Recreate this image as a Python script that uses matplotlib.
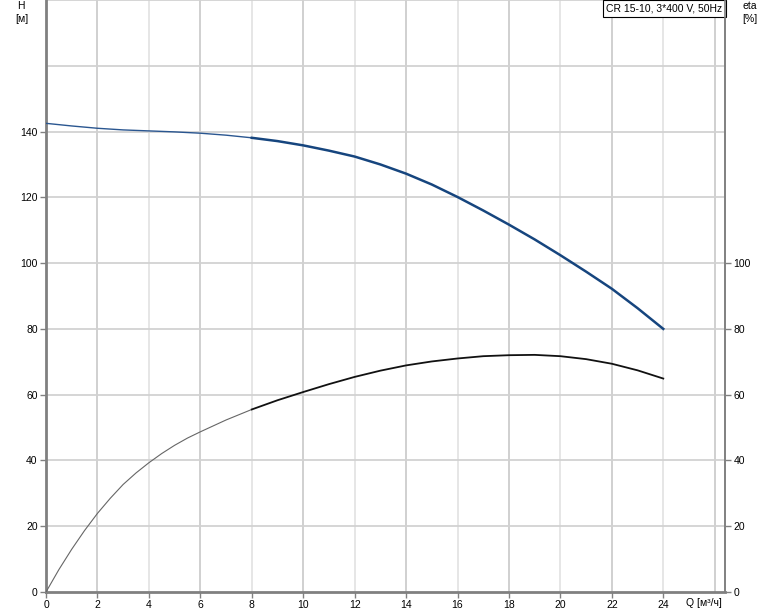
import numpy as np
import matplotlib
matplotlib.use("Agg")
import matplotlib.pyplot as plt

plt.rcParams['font.family'] = ['Liberation Sans', 'DejaVu Sans']

# pump curve CR 15-10
q_h = [0, 1, 2, 3, 4, 5, 6, 7, 8, 9, 10, 11, 12, 13, 14, 15, 16, 17, 18, 19, 20, 21, 22, 23, 24]
head = [142.5, 141.7, 141.0, 140.5, 140.2, 139.9, 139.5, 138.9, 138.1, 137.1, 135.8, 134.2, 132.4,
        130.0, 127.2, 123.9, 120.1, 116.0, 111.7, 107.2, 102.4, 97.4, 92.2, 86.3, 80.0]

q_eta = [0, 0.5, 1, 1.5, 2, 2.5, 3, 3.5, 4, 4.5, 5, 5.5, 6, 7, 8, 9, 10, 11, 12, 13, 14, 15, 16,
         17, 18, 19, 20, 21, 22, 23, 24]
eta = [0.0, 6.8, 13.0, 18.7, 23.9, 28.5, 32.7, 36.2, 39.3, 42.1, 44.6, 46.8, 48.7, 52.3, 55.5,
       58.3, 60.8, 63.2, 65.4, 67.3, 68.9, 70.1, 71.0, 71.7, 72.0, 72.1, 71.7, 70.8, 69.4, 67.4,
       64.9]

x_ticks = list(range(0, 25, 2))
y_ticks = list(range(0, 141, 20))
eta_ticks = list(range(0, 101, 20))

fig = plt.figure(figsize=(7.74, 6.11), dpi=100)
ax = fig.add_axes([46 / 774, 1 - 592 / 611, (725 - 46) / 774, 592 / 611])
ax.set_xlim(0, 26.4)
ax.set_ylim(0, 180)

# grid
for i, gx in enumerate(range(2, 27, 2)):
    c = '#cdcdcd' if i % 2 == 0 else '#e4e4e4'
    ax.axvline(gx, color=c, lw=1.3, zorder=0)
for gy in range(20, 181, 20):
    ax.axhline(gy, color='#d2d2d2', lw=1.3, zorder=0)

# curves: thin at start, thicker further on, as in the original
qh = np.array(q_h)
h = np.array(head)
qe = np.array(q_eta)
e = np.array(eta)
ax.plot(qh[qh <= 8], h[qh <= 8], color='#2a5690', lw=1.0, zorder=3)
ax.plot(qh[qh >= 8], h[qh >= 8], color='#16457e', lw=1.8, zorder=3)
ax.plot(qe[qe <= 8], e[qe <= 8], color='#666666', lw=0.8, zorder=3)
ax.plot(qe[qe >= 8], e[qe >= 8], color='#111111', lw=1.3, zorder=3)

ax.set_xticks(x_ticks)
ax.set_yticks(y_ticks)
ax.tick_params(axis='both', direction='out', length=4, width=1, color='#808080',
               labelsize=7.5, pad=2)
for s in ['left', 'bottom']:
    ax.spines[s].set_color('#808080')
    ax.spines[s].set_linewidth(2)
ax.spines['top'].set_visible(False)
ax.spines['right'].set_color('#808080')
ax.spines['right'].set_linewidth(1.2)

ax2 = ax.twinx()
ax2.set_ylim(0, 180)
ax2.set_yticks(eta_ticks)
ax2.tick_params(axis='y', direction='out', length=4, width=1, color='#808080',
                labelsize=7.5, pad=2)
for s in ['top', 'left', 'bottom']:
    ax2.spines[s].set_visible(False)
ax2.spines['right'].set_color('#808080')
ax2.spines['right'].set_linewidth(1.2)

fig.text(21 / 774, 1 - 6 / 611, 'H', fontsize=7.5, ha='center', va='center')
fig.text(22 / 774, 1 - 19 / 611, '[м]', fontsize=7.5, ha='center', va='center')
fig.text(750 / 774, 1 - 6 / 611, 'eta', fontsize=7.5, ha='center', va='center')
fig.text(750 / 774, 1 - 19 / 611, '[%]', fontsize=7.5, ha='center', va='center')
fig.text(704 / 774, 1 - 603 / 611, 'Q [м³/ч]', fontsize=7.5, ha='center', va='center')

ax.text(0.996, 0.994, 'CR 15-10, 3*400 V, 50Hz', transform=ax.transAxes, fontsize=7.5,
        ha='right', va='top', zorder=5,
        bbox=dict(boxstyle='square,pad=0.35', fc='white', ec='black', lw=0.8))

fig.savefig('out.png', dpi=100)
